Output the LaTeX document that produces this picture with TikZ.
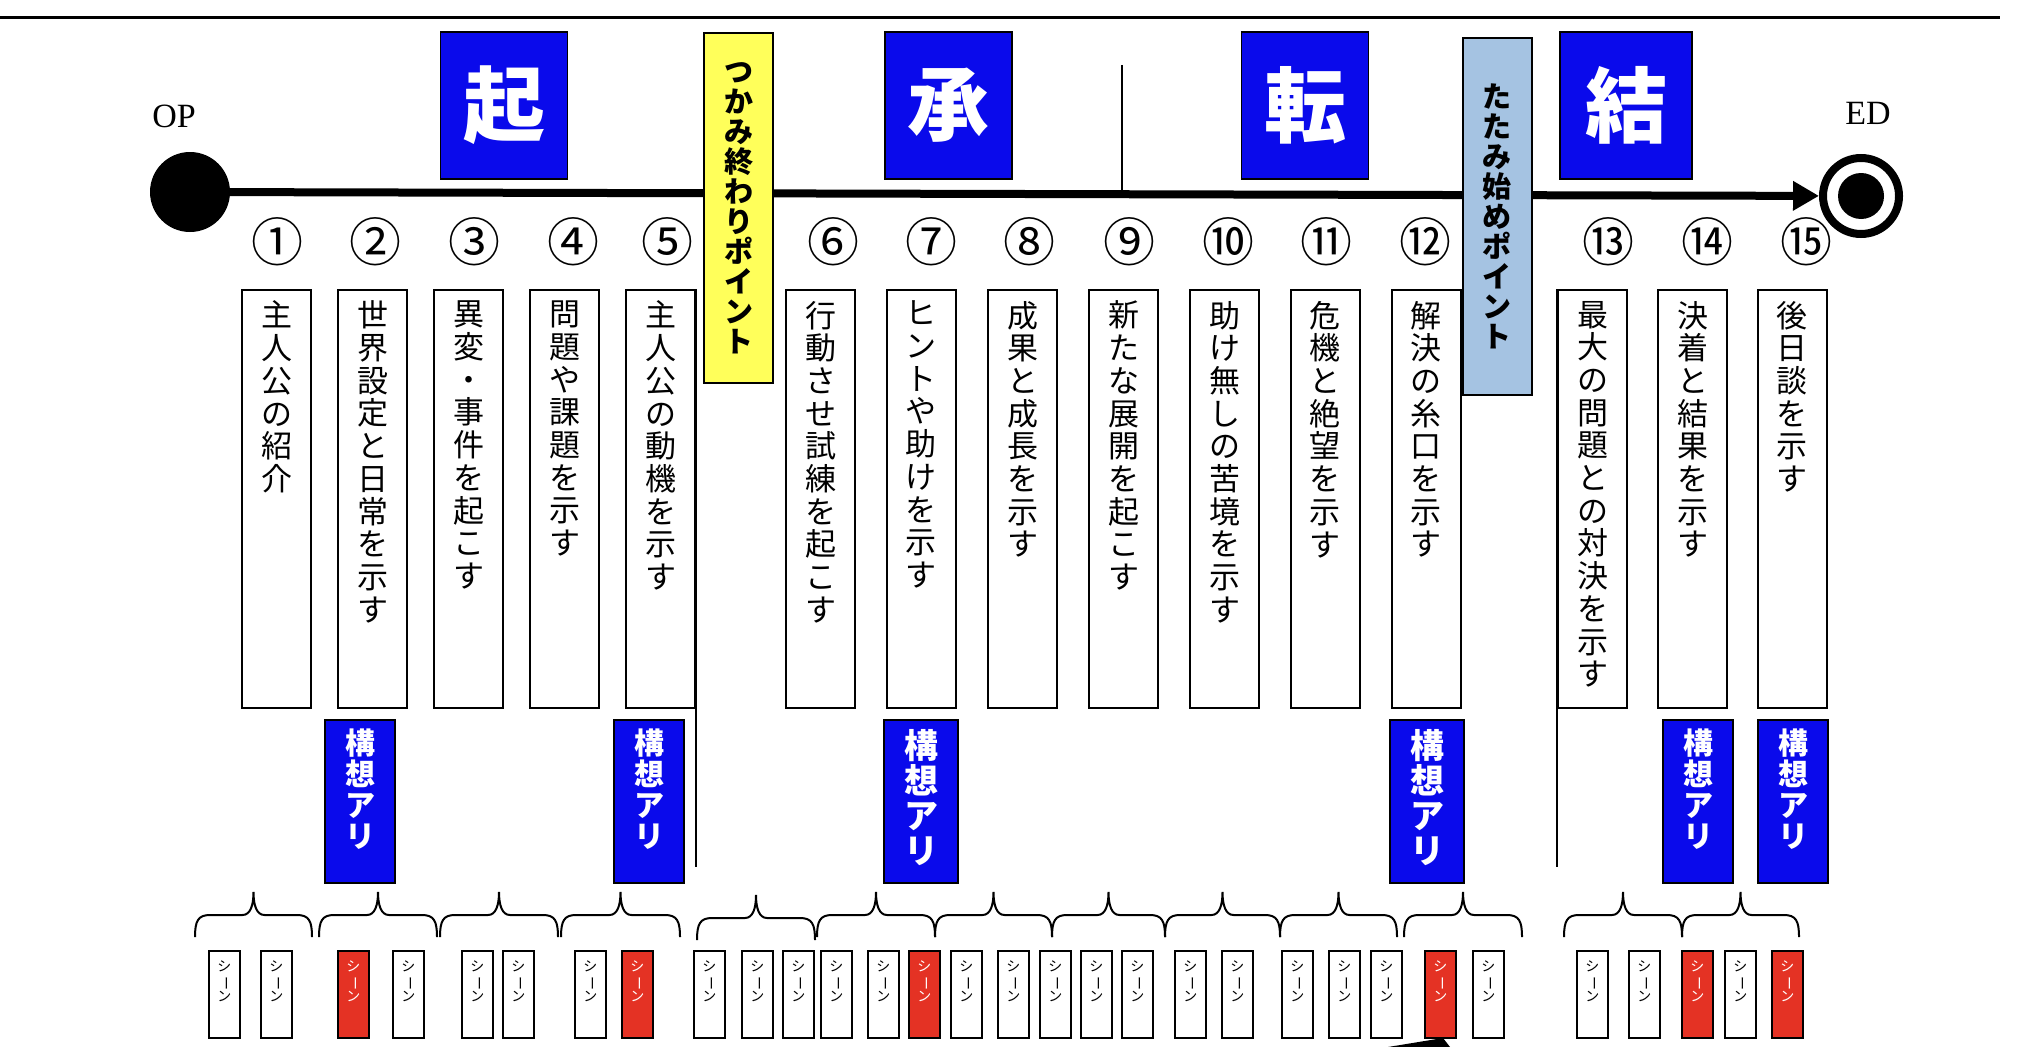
\documentclass[tikz,border=0pt]{standalone}
\usepackage{fontspec}
\usepackage{graphicx}
\setmainfont{Liberation Serif}
\newfontfamily\jp{Noto Sans CJK JP}
\usetikzlibrary{arrows.meta}

\definecolor{kblue}{RGB}{10,10,235}
\definecolor{kyellow}{RGB}{255,255,90}
\definecolor{kgray}{RGB}{165,195,226}
\definecolor{kred}{RGB}{228,50,36}

% vertical (tate) text: one character per line
\makeatletter
\def\vtxt@loop#1{\ifx#1\relax\else\hbox to 1em{\hss#1\hss}\expandafter\vtxt@loop\fi}
\newcommand\vtxt[1]{\vbox{\vtxt@loop#1\relax}}
\newcommand\vtxtbox[2]{\vbox to #1{\vtxt@loop#2\relax\vss}}
\makeatother
\newcommand\cho{\rotatebox[origin=c]{-90}{ー}}

\tikzset{
  phase/.style={draw=black,line width=1.5,fill=kblue,text=white,minimum width=127,minimum height=147,inner sep=0,font=\jp\bfseries\fontsize{82}{82}\selectfont},
  cue/.style={draw=black,line width=2,minimum width=69,inner sep=0,font=\jp\bfseries\fontsize{29}{30}\selectfont},
  num/.style={inner sep=0,font=\jp\fontsize{52}{52}\selectfont},
  beat/.style={draw=black,line width=2,fill=white,minimum width=69,inner xsep=0,inner ysep=11,anchor=north,font=\jp\fontsize{31}{32.7}\selectfont},
  idea/.style={draw=black,line width=2,fill=kblue,text=white,minimum width=70,inner xsep=0,inner ysep=9,anchor=north,font=\jp\bfseries\fontsize{30}{31}\selectfont},
  ideabig/.style={idea,minimum width=74,font=\jp\bfseries\fontsize{34}{35}\selectfont},
  scene/.style={draw=black,line width=1.6,fill=white,minimum width=31,inner xsep=0,inner ysep=10,anchor=north west,font=\jp\fontsize{14}{15.2}\selectfont},
  keyscene/.style={scene,fill=kred,text=white},
  brc/.style={line width=2}
}

\begin{document}
\begin{tikzpicture}[x=1pt,y=-1pt]
\useasboundingbox (0,0) rectangle (2033,1046);
\draw[line width=3] (0,18)--(2000,18);

% timeline
\node[circle,fill,minimum size=80,inner sep=0] (op) at (190,192) {};
\node[circle,draw,line width=8,minimum size=76,inner sep=0] (ed) at (1861,196) {};
\node[circle,fill,minimum size=46,inner sep=0] (eddot) at (ed.center) {};
\node[font=\fontsize{34}{34}\selectfont] (oplab) at (174,116) {OP};
\node[font=\fontsize{34}{34}\selectfont] (edlab) at (1868,113) {ED};
\draw[line width=8,-{Triangle[length=26pt,width=28pt]}] (op)--(ed);
\draw[line width=2] (1122,65)--(1122,193);

% ki sho ten ketsu
\node[phase] (ki) at (504,105.5) {起};
\node[phase] (sho) at (948.5,105.5) {承};
\node[phase] (ten) at (1305,105.5) {転};
\node[phase,minimum width=132] (ketsu) at (1626,105.5) {結};
\node[cue,fill=kyellow,minimum height=350] (grab) at (738.5,208) {\vtxt{つかみ終わりポイント}};
\node[cue,fill=kgray,minimum height=357] (fold) at (1497,216.5) {\vtxt{たたみ始めポイント}};

% numbers
\foreach \x/\c [count=\i] in {277/①,375/②,474/③,573/④,667/⑤,833/⑥,931/⑦,1029/⑧,1129/⑨,1228/⑩,1326/⑪,1425/⑫,1608/⑬,1707/⑭,1806/⑮}
  \node[num] (n\i) at (\x,242) {\c};

% beats
\node[beat] (b1) at (276.5,289) {\vtxtbox{396pt}{主人公の紹介}};
\node[beat] (b2) at (372.5,289) {\vtxtbox{396pt}{世界設定と日常を示す}};
\node[beat] (b3) at (468.5,289) {\vtxtbox{396pt}{異変・事件を起こす}};
\node[beat] (b4) at (564.5,289) {\vtxtbox{396pt}{問題や課題を示す}};
\node[beat] (b5) at (660.5,289) {\vtxtbox{396pt}{主人公の動機を示す}};
\node[beat] (b6) at (820.5,289) {\vtxtbox{396pt}{行動させ試練を起こす}};
\node[beat] (b7) at (921,289) {\vtxtbox{396pt}{ヒントや助けを示す}};
\node[beat] (b8) at (1022.5,289) {\vtxtbox{396pt}{成果と成長を示す}};
\node[beat] (b9) at (1123.5,289) {\vtxtbox{396pt}{新たな展開を起こす}};
\node[beat] (b10) at (1224.5,289) {\vtxtbox{396pt}{助け無しの苦境を示す}};
\node[beat] (b11) at (1325,289) {\vtxtbox{396pt}{危機と絶望を示す}};
\node[beat] (b12) at (1426,289) {\vtxtbox{396pt}{解決の糸口を示す}};
\node[beat] (b13) at (1592.5,289) {\vtxtbox{396pt}{最大の問題との対決を示す}};
\node[beat] (b14) at (1692.5,289) {\vtxtbox{396pt}{決着と結果を示す}};
\node[beat] (b15) at (1792,289) {\vtxtbox{396pt}{後日談を示す}};
\draw[line width=2] (b5.north east)--++(0,578);
\draw[line width=2] (b13.north west)--++(0,578);

% ideas
\node[idea] (i2) at (360,719) {\vtxtbox{145pt}{構想アリ}};
\node[idea] (i5) at (649,719) {\vtxtbox{145pt}{構想アリ}};
\node[ideabig] (i7) at (921,719) {\vtxtbox{145pt}{構想アリ}};
\node[ideabig] (i12) at (1427,719) {\vtxtbox{145pt}{構想アリ}};
\node[idea] (i14) at (1698,719) {\vtxtbox{145pt}{構想アリ}};
\node[idea] (i15) at (1793,719) {\vtxtbox{145pt}{構想アリ}};

% braces
\foreach \a/\b/\yb in {195/312/937,319/437/937,440/558/937,561/680/937,697/815/940,817/935/937,935/1052/937,1052/1165/937,1165/1280/937,1280/1397/937,1404/1522/937,1564/1682/937,1682/1799/937}{
  \pgfmathsetmacro\m{(\a+\b)/2}
  \draw[brc] (\a,\yb) .. controls (\a,\yb-16) and (\a+3,\yb-22) .. (\a+15,\yb-22)--(\m-11,\yb-22)
    .. controls (\m-3,\yb-22) and (\m,\yb-32) .. (\m,\yb-45)
    .. controls (\m,\yb-32) and (\m+3,\yb-22) .. (\m+11,\yb-22)--(\b-15,\yb-22)
    .. controls (\b-3,\yb-22) and (\b,\yb-16) .. (\b,\yb);
}

% scenes
\foreach \x [count=\i] in {208,260,392,461,502,574,693,741,782,820,867,950,997,1039,1080,1121,1174,1221,1281,1328,1370,1472,1576,1628,1724}
  \node[scene] (sc\i) at (\x,950) {\vtxtbox{67pt}{シ\cho ン}};
\foreach \x [count=\i] in {337,621,908,1424,1681,1771}
  \node[keyscene] (ks\i) at (\x,950) {\vtxtbox{67pt}{シ\cho ン}};
\fill (1388,1047)--(1443,1038)--(1450,1047)--cycle;
\end{tikzpicture}
\end{document}
